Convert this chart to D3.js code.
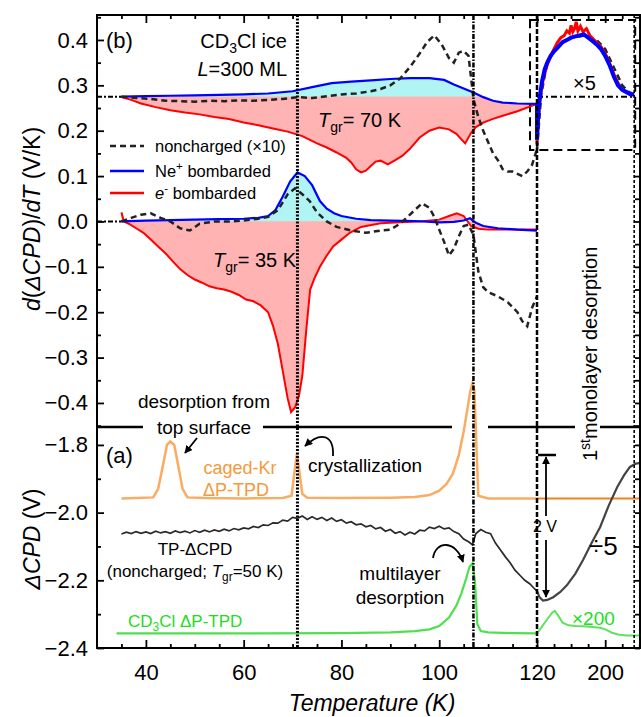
<!DOCTYPE html>
<html>
<head>
<meta charset="utf-8">
<script src="https://cdn.jsdelivr.net/npm/d3@7"></script>
<style>
body { margin: 0; background: #fff; }
text { font-family: Arial, "Liberation Sans", sans-serif; fill: #000; }
</style>
</head>
<body>
<div id="chart"></div>
<script>
// ---------- values ----------
// panel (b), upper set: T_gr = 70 K, drawn on a 0.275 offset
const base70 = 0.275;
const tNc70 = [35,38,41,44,47,50,53,56,59,62,65,68,71,74,77,80,83,86,88,90,92,94,96,97.5,99,100.5,102,103,104,105,106,107,108,109,110,111,112,113,114,115,116,117,118,119,120];
const vNc70 = [0.275,0.272,0.27,0.266,0.265,0.264,0.266,0.265,0.267,0.266,0.268,0.27,0.274,0.272,0.276,0.28,0.282,0.287,0.292,0.3,0.315,0.34,0.37,0.395,0.41,0.39,0.36,0.35,0.372,0.376,0.365,0.27,0.23,0.2,0.175,0.15,0.135,0.115,0.11,0.11,0.105,0.10,0.11,0.125,0.16];
const tNe70 = [35,40,45,50,55,60,65,70,74,78,82,86,90,94,98,101,103,105,107,109,111,113,116,120];
const vNe70 = [0.275,0.276,0.277,0.278,0.279,0.28,0.282,0.287,0.296,0.305,0.308,0.311,0.314,0.316,0.316,0.312,0.302,0.293,0.284,0.274,0.266,0.262,0.26,0.259];
const tE70 = [35,37,39,42,45,48,51,54,57,60,63,66,69,72,75,77,79,81,82,83,84,85,86,87,88,89.5,91,92.5,94,96,98,100,102,103.5,105.3,106.5,107.5,109,111,113,116,120];
const vE70 = [0.274,0.268,0.26,0.252,0.245,0.24,0.236,0.23,0.226,0.218,0.212,0.205,0.198,0.188,0.172,0.163,0.152,0.14,0.13,0.115,0.108,0.112,0.122,0.132,0.134,0.126,0.135,0.145,0.16,0.185,0.2,0.207,0.203,0.193,0.172,0.195,0.208,0.218,0.226,0.233,0.243,0.259];
// x5 part above 120 K
const tNc70x5 = [120,125,132,145,160,175,190,200,210,220,228,234];
const vNc70x5 = [0.16,0.28,0.35,0.39,0.405,0.41,0.4,0.38,0.34,0.3,0.285,0.28];
const tNe70x5 = [120,120,121,122,124,126,129,132,136,140,145,150,155,160,165,170,175,180,185,190,195,200,205,210,215,220,225,230,234];
const vNe70x5 = [0.259,0.18,0.22,0.25,0.285,0.31,0.335,0.35,0.365,0.375,0.385,0.395,0.4,0.405,0.408,0.41,0.412,0.405,0.398,0.39,0.38,0.365,0.345,0.32,0.3,0.29,0.285,0.28,0.28];
const tE70x5 = [120,120,121,123,125,128,132,136,140,144,148,152,155,158,160,162,164,166,168,171,174,178,182,186,190,195,200,205,210,215,220,225,230,234];
const vE70x5 = [0.259,0.17,0.21,0.26,0.29,0.32,0.345,0.365,0.38,0.395,0.405,0.41,0.42,0.415,0.432,0.418,0.425,0.44,0.42,0.43,0.418,0.425,0.41,0.402,0.395,0.385,0.37,0.35,0.325,0.305,0.29,0.285,0.28,0.28];

// panel (b), lower set: T_gr = 35 K, baseline 0
const base35 = 0;
const tNc35 = [35,37,39,41,43,45,47,49,51,54,57,60,63,65,67,69,70.5,72,73.5,75,77,79,82,85,88,90,92,93.5,95,96.5,98,99,100,101,102,103,104,105,106,107,108,109,110,112,114,116,117,118,119,120];
const vNc35 = [0.0,0.008,0.015,0.018,0.008,0.0,-0.015,-0.02,-0.005,0.0,0.0,0.002,0.006,0.01,0.025,0.06,0.073,0.06,0.045,0.02,0.0,-0.012,-0.02,-0.025,-0.02,-0.018,-0.005,0.01,0.025,0.04,0.03,0.01,-0.018,-0.045,-0.075,-0.06,-0.033,-0.01,-0.007,-0.03,-0.11,-0.145,-0.156,-0.165,-0.178,-0.2,-0.22,-0.231,-0.19,-0.165];
const tNe35 = [35,40,45,50,55,60,63,65,66.5,68,69.5,71,72.5,74,75.6,77,78.5,80,83,86,90,95,100,103,105,106.3,107.5,109,112,116,120];
const vNe35 = [0.0,0.002,0.003,0.004,0.005,0.006,0.008,0.012,0.025,0.055,0.088,0.108,0.1,0.08,0.045,0.028,0.018,0.012,0.006,0.003,0.002,0.001,-0.002,-0.001,0.002,0.007,-0.003,-0.01,-0.015,-0.018,-0.02];
const tE35 = [35,35.5,36.5,38,39.5,41,42.5,44,45.5,47,48.5,50,51.5,53,54.5,56,57.5,59,60.5,62,63.5,65,66,67,68,69,69.7,70.5,71.3,72,72.8,73.6,74.5,75.6,77,78.3,80,81.7,84,88,92,96,100,102,103.6,105,106.5,108,110,114,120];
const vE35 = [0.02,0.0,-0.005,-0.015,-0.025,-0.04,-0.055,-0.07,-0.088,-0.105,-0.118,-0.128,-0.135,-0.143,-0.147,-0.15,-0.155,-0.162,-0.172,-0.176,-0.185,-0.2,-0.23,-0.27,-0.33,-0.39,-0.42,-0.41,-0.385,-0.34,-0.24,-0.15,-0.125,-0.1,-0.075,-0.055,-0.04,-0.025,-0.012,-0.004,-0.002,0.0,0.004,0.012,0.018,0.012,-0.01,-0.016,-0.018,-0.018,-0.018];

// panel (a)
const tKr = [35,38,41.5,42.5,43.5,44.3,45,45.8,46.6,47.5,48.5,52,60,68,69.8,70.4,70.9,71.4,72,73,80,90,95,98,100,101.5,102.8,104,105,105.7,106.3,106.8,107.2,107.6,108,110,115,120];
const vKr = [-1.958,-1.957,-1.955,-1.93,-1.86,-1.8,-1.79,-1.8,-1.86,-1.93,-1.955,-1.957,-1.958,-1.957,-1.95,-1.88,-1.825,-1.88,-1.945,-1.956,-1.957,-1.956,-1.954,-1.948,-1.935,-1.915,-1.885,-1.83,-1.76,-1.7,-1.645,-1.618,-1.64,-1.8,-1.95,-1.958,-1.958,-1.958];
const tKr2 = [120,242];
const vKr2 = [-1.958,-1.958];
const tCpd = [35,36,37,38,39,40,41,42,43,44,45,46,47,48,49,50,51,52,53,54,55,56,57,58,59,60,61,62,63,64,65,66,67,68,69,70,71,72,73,74,75,76,77,78,79,80,81,82,83,84,85,86,87,88,89,90,91,92,93,94,95,96,97,98,99,100,101,102,103,104,105,106,106.8,107.5,108.5,109.5,110.5,111.5,112.5,113.5,114.5,115.5,116.5,117.5,118.5,119.3,120];
const vCpd = [-2.063,-2.058,-2.062,-2.056,-2.061,-2.057,-2.062,-2.055,-2.06,-2.056,-2.061,-2.054,-2.059,-2.055,-2.06,-2.053,-2.058,-2.052,-2.057,-2.051,-2.055,-2.049,-2.054,-2.047,-2.051,-2.045,-2.048,-2.041,-2.044,-2.036,-2.038,-2.03,-2.031,-2.022,-2.025,-2.014,-2.017,-2.01,-2.02,-2.012,-2.02,-2.014,-2.023,-2.016,-2.026,-2.021,-2.031,-2.027,-2.036,-2.033,-2.042,-2.038,-2.048,-2.044,-2.055,-2.05,-2.061,-2.056,-2.066,-2.058,-2.063,-2.052,-2.054,-2.043,-2.047,-2.04,-2.048,-2.045,-2.056,-2.062,-2.078,-2.086,-2.095,-2.062,-2.05,-2.058,-2.062,-2.09,-2.11,-2.13,-2.148,-2.17,-2.185,-2.2,-2.21,-2.222,-2.232];
const tCpd2 = [120,123,127,132,139,147,155,165,174,184,194,204,214,222,229,236,242];
const vCpd2 = [-2.232,-2.25,-2.26,-2.258,-2.25,-2.235,-2.215,-2.18,-2.14,-2.09,-2.043,-1.98,-1.925,-1.89,-1.865,-1.855,-1.853];
const tCd = [34,60,80,90,95,98,100,102,103.5,104.5,105.5,106.2,106.8,107.3,107.8,108.5,110,115,120];
const vCd = [-2.357,-2.357,-2.356,-2.354,-2.35,-2.345,-2.335,-2.31,-2.275,-2.24,-2.195,-2.16,-2.15,-2.2,-2.33,-2.35,-2.354,-2.356,-2.357];
const tCd2 = [120,125,132,138,141,145,150,157,165,175,185,194,200,208,215,225,242];
const vCd2 = [-2.357,-2.34,-2.315,-2.295,-2.29,-2.305,-2.325,-2.333,-2.335,-2.336,-2.338,-2.34,-2.345,-2.355,-2.36,-2.363,-2.363];

// ticks
const xMajor = [40,60,80,100,120,200];
const xMinor = [35,45,50,55,65,70,75,85,90,95,105,110,115,140,160,180,220,240];
const bMajor = [-0.4,-0.3,-0.2,-0.1,0,0.1,0.2,0.3,0.4];
const bMinor = [-0.45,-0.35,-0.25,-0.15,-0.05,0.05,0.15,0.25,0.35,0.45];
const aMajor = [-2.4,-2.2,-2.0,-1.8];
const aMinor = [-2.3,-2.1,-1.9];

// ---------- layout ----------
const W = 641, H = 717;
const fr = {left: 97, right: 640, top: 15, bottom: 648, mid: 427};

const svg = d3.select("#chart").append("svg")
    .attr("width", W).attr("height", H);

// broken temperature axis: 30-120 K linear, then compressed 120-242 K
const x = d3.scaleLinear().domain([30, 120, 242]).range([fr.left, 537, 641]);
const yB = d3.scaleLinear().domain([-0.453, 0.455]).range([fr.mid, fr.top]);
const yA = d3.scaleLinear().domain([-2.4, -1.747]).range([fr.bottom, fr.mid]);

const pts = (t, v) => d3.zip(t, v);
const lineB = d3.line().x(d => x(d[0])).y(d => yB(d[1]));
const lineA = d3.line().x(d => x(d[0])).y(d => yA(d[1]));

const defs = svg.append("defs");
defs.append("marker").attr("id", "ah")
    .attr("viewBox", "0 0 10 10").attr("refX", 9).attr("refY", 5)
    .attr("markerWidth", 8).attr("markerHeight", 8)
    .attr("markerUnits", "userSpaceOnUse").attr("orient", "auto")
    .append("path").attr("d", "M0,0L10,5L0,10z").attr("fill", "#000");

defs.append("clipPath").attr("id", "above70")
    .append("rect").attr("x", fr.left).attr("y", fr.top)
    .attr("width", x(120) - fr.left).attr("height", yB(base70) - fr.top);
defs.append("clipPath").attr("id", "above35")
    .append("rect").attr("x", fr.left).attr("y", fr.top)
    .attr("width", x(120) - fr.left).attr("height", yB(base35) - fr.top);

const PINK = "#ffb3b3", CYAN = "#b0f4f4";
const areaB = base => d3.area().x(d => x(d[0])).y0(yB(base)).y1(d => yB(d[1]));
// pink band: between the e- curve and the Ne+ curve
const band = (red, blue) => lineB(red.concat(blue.slice().reverse())) + "Z";

// fills
svg.append("path").attr("d", band(pts(tE70, vE70), pts(tNe70, vNe70))).attr("fill", PINK);
svg.append("path").attr("d", areaB(base70)(pts(tNe70, vNe70)))
    .attr("fill", CYAN).attr("clip-path", "url(#above70)");
svg.append("path").attr("d", band(pts(tE35, vE35), pts(tNe35, vNe35))).attr("fill", PINK);
svg.append("path").attr("d", areaB(base35)(pts(tNe35, vNe35)))
    .attr("fill", CYAN).attr("clip-path", "url(#above35)");

// baselines (dash-dot)
svg.append("line").attr("x1", fr.left).attr("x2", x(35)).attr("y1", yB(base70)).attr("y2", yB(base70))
    .attr("stroke", "#000").attr("stroke-width", 2).attr("stroke-dasharray", "5,2,2,2");
svg.append("line").attr("x1", fr.left).attr("x2", x(35)).attr("y1", yB(base35)).attr("y2", yB(base35))
    .attr("stroke", "#000").attr("stroke-width", 2).attr("stroke-dasharray", "5,2,2,2");
svg.append("line").attr("x1", x(120)).attr("x2", x(234)).attr("y1", yB(base70)).attr("y2", yB(base70))
    .attr("stroke", "#000").attr("stroke-width", 2).attr("stroke-dasharray", "6,3,2,3");

// inset dashed box (x5)
svg.append("rect").attr("x", x(120) - 7).attr("y", 20)
    .attr("width", x(234) - x(120) + 8).attr("height", 130)
    .attr("fill", "none").attr("stroke", "#000").attr("stroke-width", 2)
    .attr("stroke-dasharray", "9,5");

// panel b curves
const dashed = g => g.attr("fill", "none").attr("stroke", "#222").attr("stroke-width", 2.5).attr("stroke-dasharray", "6,4");
svg.append("path").attr("d", lineB(pts(tNc70x5, vNc70x5))).call(dashed);
[[tE70, vE70], [tE35, vE35], [tE70x5, vE70x5]].forEach(function (s, i) {
    svg.append("path").attr("d", lineB(pts(s[0], s[1])))
        .attr("fill", "none").attr("stroke", "#ff0000").attr("stroke-width", i == 2 ? 3 : 2);
});
[[tNe70, vNe70], [tNe35, vNe35], [tNe70x5, vNe70x5]].forEach(function (s, i) {
    svg.append("path").attr("d", lineB(pts(s[0], s[1])))
        .attr("fill", "none").attr("stroke", "#0000ff").attr("stroke-width", i == 2 ? 4 : 2.2);
});
svg.append("path").attr("d", lineB(pts(tNc70, vNc70))).call(dashed);
svg.append("path").attr("d", lineB(pts(tNc35, vNc35))).call(dashed);

// panel a curves
svg.append("path").attr("d", lineA(pts(tKr, vKr)))
    .attr("fill", "none").attr("stroke", "#f9ac62").attr("stroke-width", 2.5);
svg.append("path").attr("d", lineA(pts(tKr2, vKr2)))
    .attr("fill", "none").attr("stroke", "#f4811c").attr("stroke-width", 2);
svg.append("path").attr("d", lineA(pts(tCpd, vCpd)))
    .attr("fill", "none").attr("stroke", "#2a2a2a").attr("stroke-width", 1.7);
svg.append("path").attr("d", lineA(pts(tCpd2, vCpd2)))
    .attr("fill", "none").attr("stroke", "#444").attr("stroke-width", 2.2);
svg.append("path").attr("d", lineA(pts(tCd, vCd)))
    .attr("fill", "none").attr("stroke", "#4fe04f").attr("stroke-width", 2.2);
svg.append("path").attr("d", lineA(pts(tCd2, vCd2)))
    .attr("fill", "none").attr("stroke", "#5ee35e").attr("stroke-width", 2);

// vertical marker lines
const vline = function (t, dash, w) {
    svg.append("line").attr("x1", x(t)).attr("x2", x(t)).attr("y1", fr.top).attr("y2", fr.bottom)
        .attr("stroke", "#000").attr("stroke-width", w).attr("stroke-dasharray", dash);
};
vline(71, "2,1.5", 3);
vline(107, "5,1.5,1.5,1.5", 2.5);
vline(120, "5,2", 2.5);
vline(234, "3,2", 1.6);

// panel divider with gaps for text
[[fr.left, 143], [263, 452], [488, 575], [600, fr.right]].forEach(function (s) {
    svg.append("line").attr("x1", s[0]).attr("x2", s[1]).attr("y1", fr.mid).attr("y2", fr.mid)
        .attr("stroke", "#000").attr("stroke-width", 2.5);
});

// ---------- axes ----------
const clean = g => { g.select(".domain").remove(); g.selectAll("text").attr("font-size", 22); };
function yAxes(scale, major, minor) {
    svg.append("g").attr("transform", `translate(${fr.left},0)`)
        .call(d3.axisLeft(scale).tickValues(major).tickSize(-7).tickPadding(9).tickFormat(d3.format(".1f")))
        .call(clean);
    svg.append("g").attr("transform", `translate(${fr.left},0)`)
        .call(d3.axisLeft(scale).tickValues(minor).tickSize(-4).tickFormat(""))
        .call(clean);
    svg.append("g").attr("transform", `translate(${fr.right},0)`)
        .call(d3.axisRight(scale).tickValues(major.concat(minor)).tickSize(-5).tickFormat(""))
        .call(clean);
}
yAxes(yB, bMajor, bMinor);
yAxes(yA, aMajor, aMinor);

svg.append("g").attr("transform", `translate(0,${fr.bottom})`)
    .call(d3.axisBottom(x).tickValues(xMajor).tickSize(-8).tickPadding(16).tickFormat(d3.format("d")))
    .call(clean);
svg.append("g").attr("transform", `translate(0,${fr.bottom})`)
    .call(d3.axisBottom(x).tickValues(xMinor).tickSize(-4).tickFormat(""))
    .call(clean);
svg.append("g").attr("transform", `translate(0,${fr.top})`)
    .call(d3.axisTop(x).tickValues(xMajor).tickSize(-8).tickFormat(""))
    .call(clean);
svg.append("g").attr("transform", `translate(0,${fr.top})`)
    .call(d3.axisTop(x).tickValues(xMinor).tickSize(-4).tickFormat(""))
    .call(clean);
svg.selectAll(".tick line").attr("stroke-width", 1.8);

// frame
svg.append("rect").attr("x", fr.left).attr("y", fr.top)
    .attr("width", fr.right - fr.left).attr("height", fr.bottom - fr.top)
    .attr("fill", "none").attr("stroke", "#000").attr("stroke-width", 2);

// ---------- text ----------
function label(px, py, parts, opts) {
    opts = opts || {};
    const t = svg.append("text").attr("x", px).attr("y", py)
        .attr("font-size", opts.size || 18)
        .attr("text-anchor", opts.anchor || "start");
    if (opts.rotate) t.attr("transform", `rotate(${opts.rotate},${px},${py})`);
    if (opts.color) t.style("fill", opts.color);
    parts.forEach(function (p) {
        if (typeof p === "string") p = {s: p};
        const ts = t.append("tspan").text(p.s);
        if (p.i) ts.attr("font-style", "italic");
        if (p.sub) ts.attr("dy", p.sub).attr("font-size", (opts.size || 18) * 0.7);
        if (p.back) ts.attr("dy", p.back);
    });
    return t;
}

// axis titles
label(40, 219, [{s: "d", i: 1}, "(", {s: "\u0394CPD", i: 1}, ")/", {s: "dT", i: 1}, " (V/K)"], {size: 23, anchor: "middle", rotate: -90});
label(40, 539, [{s: "\u0394CPD", i: 1}, " (V)"], {size: 23, anchor: "middle", rotate: -90});
label(372, 711, [{s: "Temperature (K)", i: 1}], {size: 23, anchor: "middle"});

// panel b annotations
label(106, 48, ["(b)"], {size: 22});
label(287, 48, ["CD", {s: "3", sub: 5}, {s: "Cl ice", back: -5}], {size: 20, anchor: "end"});
label(287, 76, [{s: "L", i: 1}, "=300 ML"], {size: 20, anchor: "end"});
label(318, 127, [{s: "T", i: 1}, {s: "gr", sub: 5}, {s: "= 70 K", back: -5}], {size: 20});
label(213, 267, [{s: "T", i: 1}, {s: "gr", sub: 5}, {s: "= 35 K", back: -5}], {size: 20});
label(573, 90, ["\u00d75"], {size: 20});

// legend
const legend = [
    {y: 146, color: "#222", dash: "6,4", parts: ["noncharged (\u00d710)"]},
    {y: 171, color: "#0000ff", dash: null, parts: ["Ne", {s: "+", sub: -7}, {s: " bombarded", back: 7}]},
    {y: 193, color: "#ff0000", dash: null, parts: [{s: "e", i: 1}, {s: "-", sub: -7}, {s: " bombarded", back: 7}]}
];
legend.forEach(function (d) {
    svg.append("line").attr("x1", 110).attr("x2", 144).attr("y1", d.y).attr("y2", d.y)
        .attr("stroke", d.color).attr("stroke-width", 2.5).attr("stroke-dasharray", d.dash);
    label(155, d.y + 6, d.parts, {size: 16.5});
});

label(204, 408, ["desorption from"], {size: 19, anchor: "middle"});
label(204, 434, ["top surface"], {size: 19, anchor: "middle"});
label(597, 461, ["1", {s: "st", sub: -7}, {s: "monolayer desorption", back: 7}], {size: 20, rotate: -90});

// panel a annotations
label(106, 463, ["(a)"], {size: 22});
label(240, 474, ["caged-Kr"], {size: 18, anchor: "middle", color: "#f39a3c"});
label(236, 496, ["\u0394P-TPD"], {size: 18, anchor: "middle", color: "#f39a3c"});
label(308, 472, ["crystallization"], {size: 19});
label(195, 555, ["TP-\u0394CPD"], {size: 17, anchor: "middle"});
label(195, 577, ["(noncharged; ", {s: "T", i: 1}, {s: "gr", sub: 4}, {s: "=50 K)", back: -4}], {size: 17, anchor: "middle"});
label(128, 627, ["CD", {s: "3", sub: 4}, {s: "Cl \u0394P-TPD", back: -4}], {size: 17, color: "#22dd22"});
label(400, 580, ["multilayer"], {size: 19, anchor: "middle"});
label(400, 604, ["desorption"], {size: 19, anchor: "middle"});
label(572, 625, ["\u00d7200"], {size: 19, color: "#22dd22"});
label(589, 555, ["\u00f75"], {size: 26});
label(545, 532, ["2 V"], {size: 16, anchor: "middle"});

// arrows
const arrow = d => svg.append("path").attr("d", d).attr("fill", "none")
    .attr("stroke", "#000").attr("stroke-width", 1.8).attr("marker-end", "url(#ah)");
arrow("M197,438 L185,453");
arrow("M333,456 C334,436 322,430 305,446");
arrow("M433,558 C436,540 456,540 463,562");
arrow("M546,516 L546,457");
arrow("M546,540 L546,597");
svg.append("line").attr("x1", 538).attr("x2", 556).attr("y1", 455).attr("y2", 455)
    .attr("stroke", "#000").attr("stroke-width", 2.5);
</script>
</body>
</html>
